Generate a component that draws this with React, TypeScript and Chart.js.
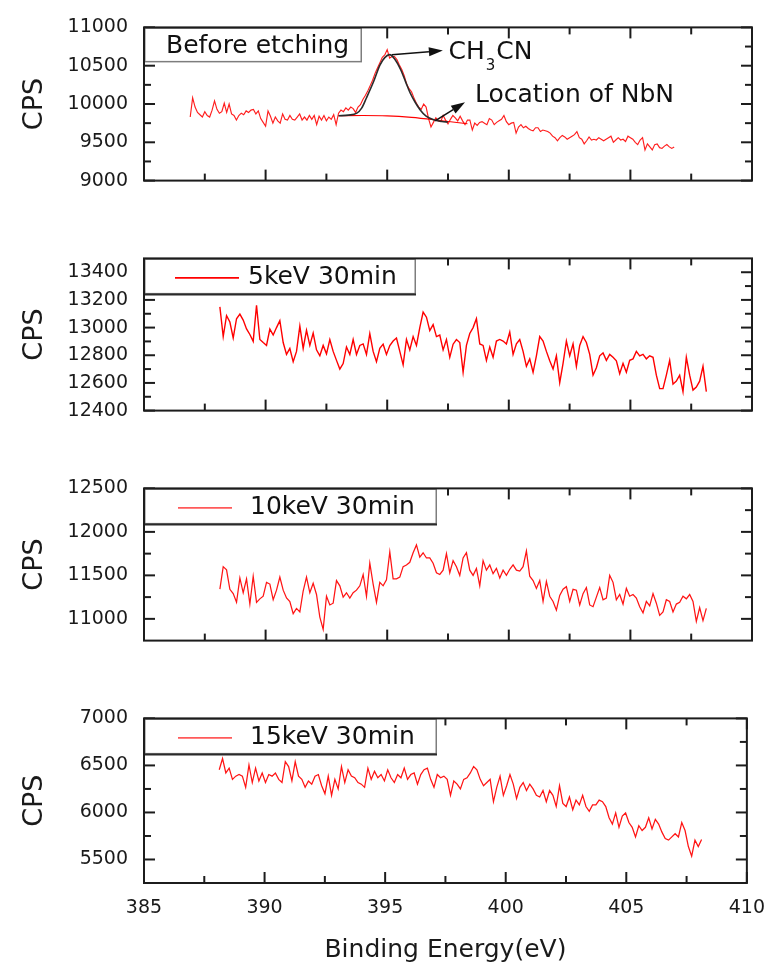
import React, { useEffect, useRef } from 'react';
import { Chart, registerables } from 'chart.js';

Chart.register(...registerables);

const FONT = '"DejaVu Sans", "Liberation Sans", Arial, sans-serif';
const INK = '#1c1c1c';
const RED = 'rgb(255,0,0)';

// Binding energy axis (eV), shared by every panel
const X_MIN = 385;
const X_MAX = 410;
const X_MAJOR = [385, 390, 395, 400, 405, 410];
const X_MINOR = [387.5, 392.5, 397.5, 402.5, 407.5];

// ---- Before etching: N 1s region, 0.1 eV steps from 386.9 eV ----
const BEFORE_E0 = 386.9;
const BEFORE_DE = 0.1;
const BEFORE_CPS = [
  9830, 10080, 9960, 9890, 9860, 9830, 9900, 9850, 9830, 9920,
  10040, 9930, 9880, 9900, 10010, 9890, 10000, 9870, 9850, 9790,
  9850, 9880, 9860, 9910, 9890, 9920, 9930, 9870, 9910, 9810,
  9760, 9710, 9910, 9840, 9750, 9830, 9780, 9750, 9870, 9800,
  9790, 9850, 9800, 9790, 9830, 9870, 9790, 9830, 9790, 9850,
  9800, 9850, 9730, 9840, 9790, 9850, 9780, 9830, 9800, 9860,
  9730, 9880, 9920, 9900, 9950, 9920, 9960, 9940, 9890, 9960,
  9990, 10060, 10110, 10170, 10240, 10310, 10400, 10470, 10540, 10610,
  10640, 10710, 10600, 10620, 10620, 10580, 10510, 10450, 10370, 10260,
  10200, 10160, 10080, 10010, 9960, 9930, 10000, 9960, 9810, 9700,
  9760, 9820, 9780, 9770, 9850, 9790, 9740, 9800, 9850, 9820,
  9780, 9840, 9780, 9730, 9790, 9790, 9660, 9750, 9720, 9760,
  9770, 9750, 9730, 9810, 9790, 9730, 9760, 9780, 9800, 9850,
  9770, 9730, 9750, 9760, 9620, 9700, 9730, 9690, 9710, 9680,
  9660, 9650, 9690, 9690, 9640, 9660, 9650, 9640, 9620, 9580,
  9560, 9520, 9560, 9590, 9570, 9540, 9560, 9580, 9600, 9640,
  9560, 9540, 9480, 9520, 9570, 9530, 9540, 9530, 9560, 9540,
  9520, 9540, 9560, 9580, 9500, 9530, 9560, 9530, 9540, 9510,
  9580, 9560, 9540, 9500, 9470, 9530, 9560, 9400, 9480, 9440,
  9400, 9470, 9480, 9430, 9420, 9450, 9470, 9440, 9420, 9440,
];

// Fitted CH3CN component and its background
const FIT_E = [393.0, 393.4, 393.75, 393.95, 394.15, 394.45, 394.7, 394.9, 395.1, 395.3, 395.55, 395.75, 395.95, 396.15, 396.35, 396.6, 396.95, 397.25, 397.5];
const FIT_CPS = [9846, 9855, 9880, 9946, 10082, 10300, 10508, 10605, 10644, 10590, 10450, 10295, 10140, 10023, 9926, 9841, 9791, 9772, 9765];
const BG_E = [393.0, 394.0, 395.0, 396.0, 397.0, 398.3];
const BG_CPS = [9848, 9850, 9845, 9825, 9792, 9742];

// ---- Ion-etched spectra: common grid from 388.12 eV, 0.137 eV steps ----
const ETCH_E0 = 388.12;
const ETCH_DE = 0.137;

const KEV5_CPS = [
  13150, 12935, 13086, 13040, 12925, 13064, 13097, 13054, 12990, 12950,
  12900, 13161, 12914, 12892, 12871, 12989, 12946, 13000, 13050, 12892,
  12806, 12849, 12753, 12828, 13011, 12849, 12980, 12871, 12960, 12839,
  12796, 12871, 12810, 12914, 12828, 12763, 12700, 12740, 12860, 12806,
  12914, 12806, 12871, 12882, 12806, 12957, 12828, 12753, 12850, 12880,
  12806, 12870, 12903, 12925, 12828, 12731, 12914, 12839, 12935, 12871,
  13000, 13112, 13075, 12978, 13021, 12935, 12946, 12839, 12914, 12785,
  12880, 12914, 12892, 12677, 12871, 12957, 13000, 13064, 12882, 12871,
  12763, 12860, 12785, 12903, 12914, 12903, 12882, 12968, 12806, 12882,
  12914, 12828, 12720, 12774, 12677, 12796, 12935, 12903, 12828, 12760,
  12700, 12796, 12602, 12742, 12903, 12796, 12882, 12720, 12871, 12935,
  12892, 12806, 12656, 12710, 12796, 12817, 12763, 12806, 12785, 12760,
  12666, 12742, 12677, 12763, 12774, 12828, 12796, 12806, 12774, 12796,
  12785, 12656, 12559, 12559, 12656, 12763, 12591, 12613, 12656, 12537,
  12785, 12656, 12548, 12570, 12613, 12720, 12537,
];

const KEV10_CPS = [
  11342, 11600, 11563, 11340, 11290, 11190, 11470, 11300, 11460, 11170,
  11490, 11190, 11230, 11260, 11420, 11400, 11220, 11330, 11480, 11330,
  11240, 11200, 11060, 11120, 11080, 11320, 11480, 11300, 11410, 11280,
  11020, 10880, 11260, 11160, 11180, 11440, 11380, 11250, 11300, 11240,
  11300, 11330, 11380, 11510, 11260, 11640, 11400, 11190, 11420, 11380,
  11450, 11770, 11460, 11460, 11480, 11600, 11620, 11650, 11760, 11850,
  11710, 11760, 11700, 11700, 11640, 11530, 11510, 11560, 11750, 11530,
  11670, 11600, 11500, 11700, 11760, 11560, 11500, 11580, 11380, 11670,
  11560, 11620, 11520, 11580, 11470, 11560, 11500, 11570, 11620, 11560,
  11550, 11600, 11780, 11490, 11440, 11350, 11440, 11200, 11430, 11260,
  11200, 11100, 11270, 11340, 11370, 11200, 11340, 11330, 11160, 11290,
  11360, 11160, 11140, 11250, 11360, 11220, 11240, 11500, 11420, 11220,
  11280, 11170, 11350, 11260, 11280, 11240, 11140, 11070, 11200, 11150,
  11290, 11180, 11040, 11080, 11220, 11200, 11080, 11170, 11190, 11260,
  11230, 11280, 11200, 10970, 11130, 10980, 11120,
];

const KEV15_CPS = [
  6454, 6573, 6420, 6471, 6352, 6386, 6403, 6386, 6267, 6505,
  6318, 6471, 6335, 6420, 6318, 6403, 6386, 6420, 6352, 6318,
  6539, 6488, 6335, 6539, 6386, 6352, 6267, 6335, 6301, 6386,
  6403, 6284, 6199, 6386, 6182, 6352, 6250, 6488, 6318, 6454,
  6386, 6369, 6318, 6301, 6267, 6471, 6352, 6437, 6369, 6403,
  6335, 6454, 6369, 6318, 6403, 6369, 6471, 6352, 6403, 6420,
  6301, 6403, 6454, 6471, 6352, 6267, 6403, 6369, 6386, 6352,
  6182, 6335, 6301, 6250, 6352, 6369, 6420, 6488, 6454, 6352,
  6284, 6318, 6352, 6114, 6267, 6386, 6182, 6284, 6403, 6301,
  6148, 6267, 6318, 6233, 6301, 6250, 6182, 6165, 6233, 6114,
  6233, 6182, 6063, 6284, 6097, 6063, 6165, 6029, 6131, 6080,
  6182, 6063, 6012, 6080, 6080, 6131, 6114, 6063, 5944, 5876,
  5995, 5842, 5961, 5995, 5893, 5842, 5740, 5859, 5808, 5842,
  5944, 5825, 5927, 5876, 5791, 5723, 5706, 5740, 5774, 5740,
  5893, 5808, 5638, 5536, 5706, 5638, 5713,
];

// ---- Y axis ranges and tick values per panel ----
const BEFORE_Y = [9000, 11000];
const BEFORE_TICKS = [9000, 9500, 10000, 10500, 11000];
const BEFORE_MINOR = [9250, 9750, 10250, 10750];

const KEV5_Y = [12400, 13500];
const KEV5_TICKS = [12400, 12600, 12800, 13000, 13200, 13400];
const KEV5_MINOR = [12500, 12700, 12900, 13100, 13300];

const KEV10_Y = [10750, 12500];
const KEV10_TICKS = [11000, 11500, 12000, 12500];
const KEV10_MINOR = [11250, 11750, 12250];

const KEV15_Y = [5250, 7000];
const KEV15_TICKS = [5500, 6000, 6500, 7000];
const KEV15_MINOR = [5750, 6250, 6750];

const LABELS = ['Before etching', '5keV 30min', '10keV 30min', '15keV 30min'];

const toPoints = (e0: number, de: number, ys: number[]) =>
  ys.map((y, i) => ({ x: +(e0 + i * de).toFixed(3), y }));
const zipPoints = (xs: number[], ys: number[]) => xs.map((x, i) => ({ x, y: ys[i] }));

type Legend = { text: string; w: number; h: number; textX: number; sample?: [number, number]; sampleColor?: string; gray?: boolean };

type PanelDef = {
  top: number;
  height: number;
  bottomAxis: boolean;
  yRange: number[];
  yTicks: number[];
  yMinor: number[];
  datasets: any[];
  legend: Legend;
  notes?: boolean;
};

const redLine = (data: any[], width = 1, color = RED) => ({
  data,
  borderColor: color,
  borderWidth: width,
  pointRadius: 0,
  tension: 0,
  fill: false,
});

const PANELS: PanelDef[] = [
  {
    top: 0,
    height: 208,
    bottomAxis: false,
    yRange: BEFORE_Y,
    yTicks: BEFORE_TICKS,
    yMinor: BEFORE_MINOR,
    datasets: [
      {
        data: zipPoints(FIT_E, FIT_CPS),
        borderColor: '#2a2a2a',
        borderWidth: 1.6,
        pointRadius: 0,
        cubicInterpolationMode: 'monotone',
        order: 0,
      },
      { ...redLine(zipPoints(BG_E, BG_CPS), 1.1), cubicInterpolationMode: 'monotone', order: 1 },
      { ...redLine(toPoints(BEFORE_E0, BEFORE_DE, BEFORE_CPS), 1.15, 'rgb(255,30,30)'), order: 2 },
    ],
    legend: { text: LABELS[0], w: 218, h: 35, textX: 22, gray: true },
    notes: true,
  },
  {
    top: 231,
    height: 207,
    bottomAxis: false,
    yRange: KEV5_Y,
    yTicks: KEV5_TICKS,
    yMinor: KEV5_MINOR,
    datasets: [redLine(toPoints(ETCH_E0, ETCH_DE, KEV5_CPS), 1.4)],
    legend: { text: LABELS[1], w: 272, h: 36, textX: 104, sample: [31, 95], sampleColor: RED },
  },
  {
    top: 461,
    height: 207,
    bottomAxis: false,
    yRange: KEV10_Y,
    yTicks: KEV10_TICKS,
    yMinor: KEV10_MINOR,
    datasets: [redLine(toPoints(ETCH_E0, ETCH_DE, KEV10_CPS), 1.25, 'rgb(255,20,20)')],
    legend: { text: LABELS[2], w: 293, h: 36, textX: 106, sample: [34, 88], sampleColor: 'rgb(255,90,90)' },
  },
  {
    top: 691,
    height: 276,
    bottomAxis: true,
    yRange: KEV15_Y,
    yTicks: KEV15_TICKS,
    yMinor: KEV15_MINOR,
    datasets: [redLine(toPoints(ETCH_E0, ETCH_DE, KEV15_CPS), 1.25, 'rgb(255,20,20)')],
    legend: { text: LABELS[3], w: 293, h: 36, textX: 106, sample: [34, 88], sampleColor: 'rgb(255,90,90)' },
  },
];

// Peak annotation, in data coordinates of the top panel
const CH3CN_ARROW = { from: [395.19, 10644], to: [397.29, 10698] };
const CH3CN_TEXT_AT = [397.52, 10582];
const NBN_ARROW = { from: [396.97, 9779], to: [398.2, 10023] };
const NBN_TEXT_AT = [398.61, 10023];

function arrow(ctx: CanvasRenderingContext2D, x0: number, y0: number, x1: number, y1: number) {
  const ang = Math.atan2(y1 - y0, x1 - x0);
  const len = 14;
  const half = 4.5;
  const bx = x1 - len * Math.cos(ang);
  const by = y1 - len * Math.sin(ang);
  ctx.beginPath();
  ctx.moveTo(x0, y0);
  ctx.lineTo(bx, by);
  ctx.stroke();
  ctx.beginPath();
  ctx.moveTo(x1, y1);
  ctx.lineTo(bx + half * Math.sin(ang), by - half * Math.cos(ang));
  ctx.lineTo(bx - half * Math.sin(ang), by + half * Math.cos(ang));
  ctx.closePath();
  ctx.fill();
}

function framePlugin(def: PanelDef) {
  return {
    id: 'frame',
    afterDraw(chart: any) {
      const { ctx, chartArea } = chart;
      const { left, right, top, bottom } = chartArea;
      const xs = chart.scales.x;
      const ys = chart.scales.y;
      ctx.save();
      ctx.strokeStyle = INK;
      ctx.fillStyle = INK;
      ctx.lineWidth = 2;
      ctx.lineCap = 'butt';

      const seg = (x0: number, y0: number, x1: number, y1: number) => {
        ctx.beginPath();
        ctx.moveTo(x0, y0);
        ctx.lineTo(x1, y1);
        ctx.stroke();
      };

      // inward ticks on all four sides
      const MAJ = 11;
      const MIN = 7;
      X_MAJOR.forEach((v) => {
        const px = xs.getPixelForValue(v);
        seg(px, bottom, px, bottom - MAJ);
        seg(px, top, px, top + MAJ);
      });
      X_MINOR.forEach((v) => {
        const px = xs.getPixelForValue(v);
        seg(px, bottom, px, bottom - MIN);
        seg(px, top, px, top + MIN);
      });
      def.yTicks.forEach((v) => {
        const py = ys.getPixelForValue(v);
        seg(left, py, left + MAJ, py);
        seg(right, py, right - MAJ, py);
      });
      def.yMinor.forEach((v) => {
        const py = ys.getPixelForValue(v);
        seg(left, py, left + MIN, py);
        seg(right, py, right - MIN, py);
      });

      // legend box in the upper-left corner
      const lg = def.legend;
      ctx.fillStyle = '#ffffff';
      ctx.fillRect(left, top, lg.w, lg.h);
      ctx.lineWidth = 1.5;
      ctx.strokeStyle = '#7d7d7d';
      ctx.strokeRect(left + 0.75, top + 0.75, lg.w - 1.5, lg.h - 1.5);
      if (!lg.gray) {
        ctx.strokeStyle = '#2a2a2a';
        ctx.lineWidth = 2;
        seg(left, top + lg.h, left + lg.w, top + lg.h);
      }
      const midY = top + lg.h / 2 + 1.5;
      if (lg.sample) {
        ctx.strokeStyle = lg.sampleColor || RED;
        ctx.lineWidth = 1.6;
        seg(left + lg.sample[0], midY, left + lg.sample[1], midY);
      }
      ctx.fillStyle = '#111';
      ctx.font = `25px ${FONT}`;
      ctx.textAlign = 'left';
      ctx.textBaseline = 'middle';
      ctx.fillText(lg.text, left + lg.textX, midY);

      // frame drawn last so it stays on top of the legend box
      ctx.strokeStyle = INK;
      ctx.lineWidth = 2;
      ctx.strokeRect(left, top, right - left, bottom - top);

      if (def.notes) {
        const P = (p: number[]) => [xs.getPixelForValue(p[0]), ys.getPixelForValue(p[1])];
        ctx.strokeStyle = '#111';
        ctx.fillStyle = '#111';
        ctx.lineWidth = 1.5;
        const a0 = P(CH3CN_ARROW.from);
        const a1 = P(CH3CN_ARROW.to);
        arrow(ctx, a0[0], a0[1], a1[0], a1[1]);
        const b0 = P(NBN_ARROW.from);
        const b1 = P(NBN_ARROW.to);
        arrow(ctx, b0[0], b0[1], b1[0], b1[1]);

        ctx.textBaseline = 'alphabetic';
        ctx.textAlign = 'left';
        const t = P(CH3CN_TEXT_AT);
        ctx.font = `25px ${FONT}`;
        ctx.fillText('CH', t[0], t[1]);
        const wCH = ctx.measureText('CH').width;
        ctx.font = `15px ${FONT}`;
        ctx.fillText('3', t[0] + wCH + 1, t[1] + 11);
        const w3 = ctx.measureText('3').width;
        ctx.font = `25px ${FONT}`;
        ctx.fillText('CN', t[0] + wCH + 2 + w3, t[1]);

        const n = P(NBN_TEXT_AT);
        ctx.fillText('Location of NbN', n[0], n[1]);
      }
      ctx.restore();
    },
  };
}

function Panel({ def }: { def: PanelDef }) {
  const ref = useRef<HTMLCanvasElement>(null);

  useEffect(() => {
    const canvas = ref.current;
    if (!canvas) return;
    const tickFont = { family: FONT, size: 19 };
    const chart = new Chart(canvas, {
      type: 'line',
      data: { datasets: def.datasets },
      options: {
        animation: false,
        responsive: false,
        maintainAspectRatio: false,
        devicePixelRatio: 1,
        layout: { padding: { top: 21, right: 27, bottom: def.bottomAxis ? 0 : 15, left: 0 } },
        plugins: { legend: { display: false }, tooltip: { enabled: false } },
        elements: { point: { radius: 0 } },
        scales: {
          x: {
            type: 'linear',
            min: X_MIN,
            max: X_MAX,
            display: def.bottomAxis,
            grid: { display: false, drawTicks: false },
            border: { display: false },
            afterBuildTicks: (s: any) => {
              s.ticks = X_MAJOR.map((value) => ({ value }));
            },
            afterFit: (s: any) => {
              s.height = def.bottomAxis ? 84 : 0;
            },
            ticks: { padding: 14, font: tickFont, color: '#1a1a1a', maxRotation: 0, autoSkip: false },
            title: {
              display: def.bottomAxis,
              text: 'Binding Energy(eV)',
              font: { family: FONT, size: 25 },
              color: '#1a1a1a',
              padding: { top: 0, bottom: 2 },
            },
          },
          y: {
            type: 'linear',
            min: def.yRange[0],
            max: def.yRange[1],
            grid: { display: false, drawTicks: false },
            border: { display: false },
            afterBuildTicks: (s: any) => {
              s.ticks = def.yTicks.map((value) => ({ value }));
            },
            afterFit: (s: any) => {
              s.width = 144;
            },
            ticks: { padding: 16, font: tickFont, color: '#1a1a1a', autoSkip: false, callback: (v: any) => String(v) },
            title: {
              display: true,
              text: 'CPS',
              font: { family: FONT, size: 27 },
              color: '#1a1a1a',
              padding: { top: 19, bottom: 0 },
            },
          },
        },
      } as any,
      plugins: [framePlugin(def)],
    });
    return () => chart.destroy();
  }, [def]);

  return (
    <canvas
      ref={ref}
      width={779}
      height={def.height}
      style={{ position: 'absolute', left: 0, top: def.top, width: 779, height: def.height }}
    />
  );
}

export default function App() {
  return (
    <div style={{ position: 'absolute', left: 0, top: 0, width: 779, height: 967, background: '#fff' }}>
      {PANELS.map((def, i) => (
        <Panel key={i} def={def} />
      ))}
    </div>
  );
}
